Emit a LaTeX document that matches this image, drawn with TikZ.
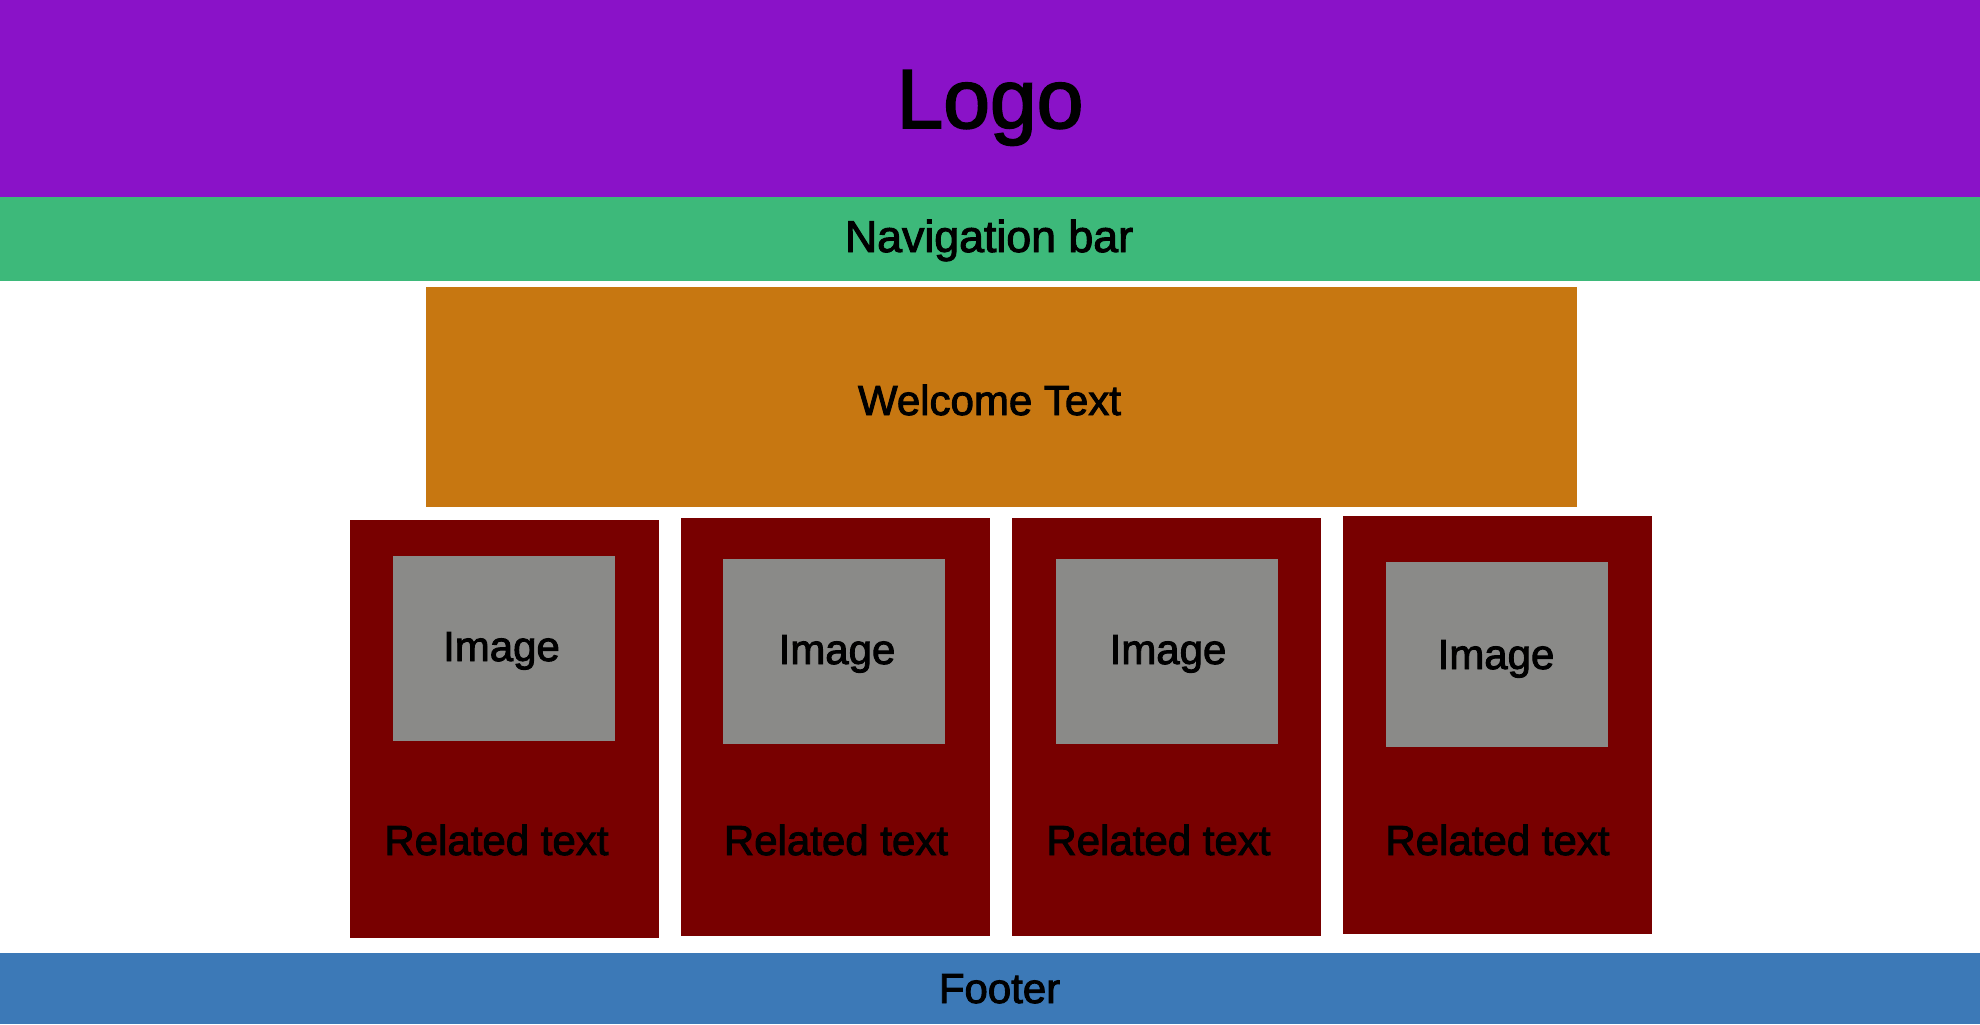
\documentclass[tikz,border=0pt]{standalone}
\usepackage{fontspec}
\setmainfont{Liberation Sans}[FakeBold=2.2]
\definecolor{logobg}{RGB}{138,18,200}
\definecolor{navbg}{RGB}{61,185,122}
\definecolor{welcomebg}{RGB}{199,119,17}
\definecolor{cardbg}{RGB}{120,0,0}
\definecolor{imagebg}{RGB}{138,138,136}
\definecolor{footbg}{RGB}{60,121,183}
\tikzset{
  label/.style={inner sep=0pt, outer sep=0pt, anchor=base, text=black},
  logotext/.style={label, font=\fontsize{84bp}{84bp}\selectfont},
  bartext/.style={label, font=\fontsize{44.7bp}{44.7bp}\selectfont},
  bodytext/.style={label, font=\fontsize{42bp}{42bp}\selectfont},
}
\begin{document}
\begin{tikzpicture}[x=1bp,y=-1bp]
  % page area
  \useasboundingbox (0,0) rectangle (1980,1024);
  \fill[white] (0,0) rectangle (1980,1024);

  % header, navigation and welcome banner
  \fill[logobg] (0,0) rectangle (1980,197);
  \fill[navbg] (0,197) rectangle (1980,281);
  \fill[welcomebg] (426,287) rectangle (1577,507);

  % four cards, each with an image placeholder
  \fill[cardbg] (350,520) rectangle (659,938);
  \fill[imagebg] (393,556) rectangle (615,741);
  \fill[cardbg] (681,518) rectangle (990,936);
  \fill[imagebg] (723,559) rectangle (945,744);
  \fill[cardbg] (1012,518) rectangle (1321,936);
  \fill[imagebg] (1056,559) rectangle (1278,744);
  \fill[cardbg] (1343,516) rectangle (1652,934);
  \fill[imagebg] (1386,562) rectangle (1608,747);

  % footer
  \fill[footbg] (0,953) rectangle (1980,1024);

  % labels
  \node[logotext] (logo) at (990,128) {Logo};
  \node[bartext] (nav) at (989,252) {Navigation bar};
  \node[bodytext] (welcome) at (989.5,415) {Welcome Text};
  \node[bodytext] (img1) at (501.5,661) {Image};
  \node[bodytext] (img2) at (837,664) {Image};
  \node[bodytext] (img3) at (1168,664) {Image};
  \node[bodytext] (img4) at (1496,669) {Image};
  \node[bodytext] (rel1) at (496.5,855) {Related text};
  \node[bodytext] (rel2) at (836,855) {Related text};
  \node[bodytext] (rel3) at (1158.5,855) {Related text};
  \node[bodytext] (rel4) at (1497.5,855) {Related text};
  \node[bodytext] (footer) at (999.5,1003) {Footer};
\end{tikzpicture}
\end{document}
